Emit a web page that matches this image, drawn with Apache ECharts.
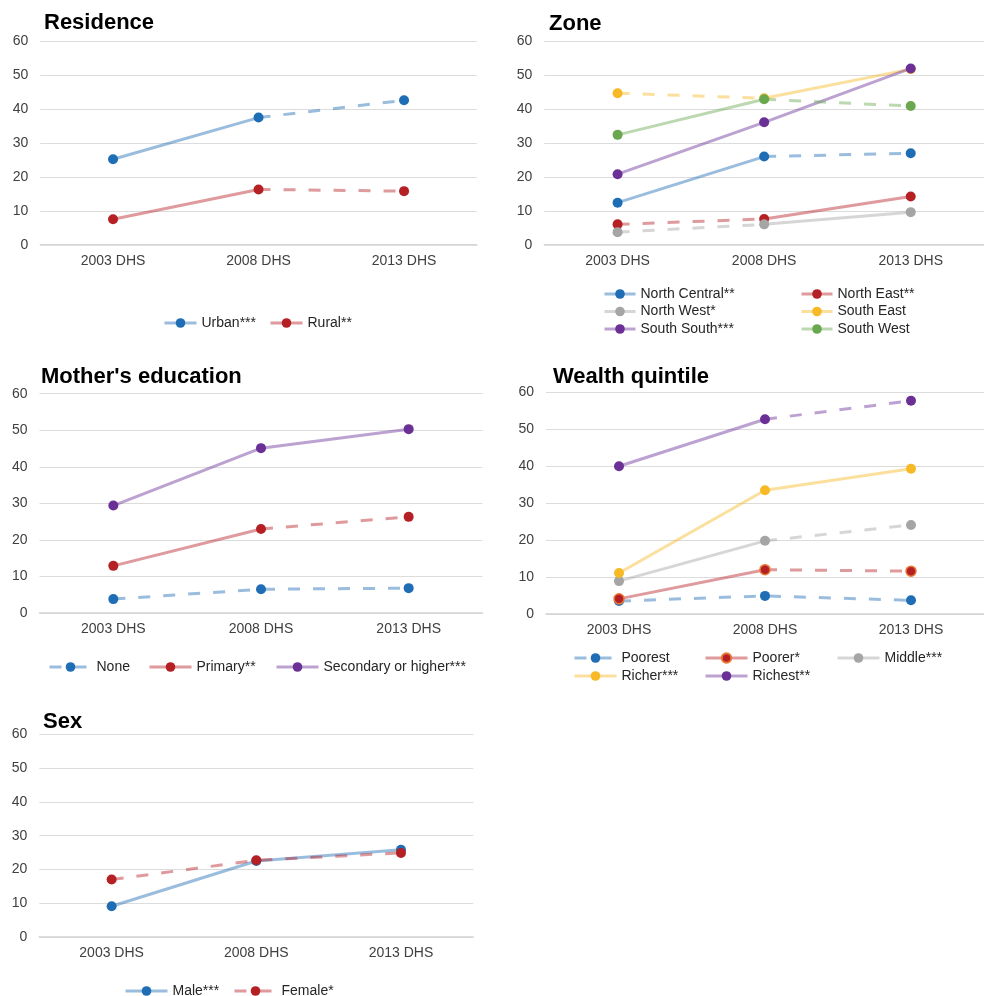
<!DOCTYPE html>
<html><head><meta charset="utf-8">
<script src="https://cdn.jsdelivr.net/npm/echarts@6/dist/echarts.min.js"></script>
<style>html,body{margin:0;padding:0;background:#fff}#chart{width:984px;height:996px}</style>
</head><body><div id="chart"></div>
<script>
// ---- data ----
const categories = ['2003 DHS', '2008 DHS', '2013 DHS'];
const yTicks = [0, 10, 20, 30, 40, 50, 60];
// Residence
const urban = [25.2, 37.5, 42.6];
const rural = [7.5, 16.3, 15.8];
// Zone
const northCentral = [12.4, 26.0, 27.0];
const northEast = [6.0, 7.6, 14.2];
const northWest = [3.7, 6.0, 9.6];
const southEast = [44.7, 43.2, 51.8];
const southSouth = [20.8, 36.1, 52.0];
const southWest = [32.4, 42.9, 40.9];
// Mother's education
const eduNone = [3.8, 6.5, 6.8];
const eduPrimary = [12.9, 23.0, 26.3];
const eduSecondary = [29.4, 45.1, 50.3];
// Wealth quintile
const poorest = [3.5, 4.9, 3.7];
const poorer = [4.1, 12.0, 11.6];
const middle = [8.9, 19.8, 24.1];
const richer = [11.1, 33.5, 39.3];
const richest = [40.0, 52.7, 57.7];
// Sex
const male = [9.1, 22.5, 25.8];
const female = [17.0, 22.7, 24.9];

// ---- styling / layout ----
const FONT = "'Liberation Sans', Arial, sans-serif";
const COLORS = {blue:'#1F6DB5', red:'#B52025', gray:'#A5A5A5', yellow:'#F7B925', green:'#6AA84F', purple:'#6A3096'};
const DASH = [12, 13];
function rgba(hex, a){const n=parseInt(hex.slice(1),16);return `rgba(${(n>>16)&255},${(n>>8)&255},${n&255},${a})`;}

const panels = [
  {title:'Residence', tl:44, tt:12, grid:{left:40.3, width:436.5, top:41.3, height:203.4}, iw:32},
  {title:'Zone', tl:549, tt:13, grid:{left:544.3, width:452, top:41.3, height:203.4}, iw:31},
  {title:"Mother's education", tl:41, tt:366, grid:{left:39.5, width:443, top:393.7, height:219.3}, iw:42},
  {title:'Wealth quintile', tl:553, tt:366, grid:{left:546, width:450.5, top:392.3, height:221.7}, iw:42},
  {title:'Sex', tl:43, tt:711, grid:{left:39.3, width:434, top:734.3, height:202.7}, iw:42}
];

const groups = [
  {p:0, name:'Urban***', data:urban, color:'blue', seg:['solid','dashed'], lg:[163,323]},
  {p:0, name:'Rural**', data:rural, color:'red', seg:['solid','dashed'], lg:[269,323]},
  {p:1, name:'North Central**', data:northCentral, color:'blue', seg:['solid','dashed'], lg:[603,294]},
  {p:1, name:'North East**', data:northEast, color:'red', seg:['dashed','solid'], lg:[800,294]},
  {p:1, name:'North West*', data:northWest, color:'gray', seg:['dashed','solid'], lg:[603,311.5]},
  {p:1, name:'South East', data:southEast, color:'yellow', seg:['dashed','solid'], lg:[800,311.5]},
  {p:1, name:'South South***', data:southSouth, color:'purple', seg:['solid','solid'], lg:[603,329]},
  {p:1, name:'South West', data:southWest, color:'green', seg:['solid','dashed'], lg:[800,329]},
  {p:2, name:'None', data:eduNone, color:'blue', seg:['dashed','dashed'], lg:[48,667]},
  {p:2, name:'Primary**', data:eduPrimary, color:'red', seg:['solid','dashed'], lg:[148,667]},
  {p:2, name:'Secondary or higher***', data:eduSecondary, color:'purple', seg:['solid','solid'], lg:[275,667]},
  {p:3, name:'Poorest', data:poorest, color:'blue', seg:['dashed','dashed'], lg:[573,658]},
  {p:3, name:'Poorer*', data:poorer, color:'red', seg:['solid','dashed'], lg:[704,658], border:'#E97A36'},
  {p:3, name:'Middle***', data:middle, color:'gray', seg:['solid','dashed'], lg:[836,658]},
  {p:3, name:'Richer***', data:richer, color:'yellow', seg:['solid','solid'], lg:[573,676]},
  {p:3, name:'Richest**', data:richest, color:'purple', seg:['solid','dashed'], lg:[704,676]},
  {p:4, name:'Male***', data:male, color:'blue', seg:['solid','solid'], lg:[124,991]},
  {p:4, name:'Female*', data:female, color:'red', seg:['dashed','dashed'], lg:[233,991]}
];

const lineSeries = [], markerSeries = [];
groups.forEach(g => {
  const c = COLORS[g.color];
  const itemStyle = {color:c, opacity:1, borderColor:g.border||c, borderWidth:g.border?1.5:0};
  const base = {type:'line', name:g.name, xAxisIndex:g.p, yAxisIndex:g.p, symbol:'circle', symbolSize:10,
    showSymbol:false, itemStyle, z:2, silent:true, animation:false};
  const ls = t => ({width:3, color:rgba(c,0.45), type: t==='dashed'?DASH:'solid', cap:'butt'});
  if (g.seg[0] === g.seg[1]) {
    lineSeries.push({...base, data:g.data.slice(), lineStyle:ls(g.seg[0])});
  } else {
    const s1 = {...base, data:[g.data[0], g.data[1], '-'], lineStyle:ls(g.seg[0])};
    const s2 = {...base, data:['-', g.data[1], g.data[2]], lineStyle:ls(g.seg[1])};
    if (g.seg[0] === 'solid') lineSeries.push(s1, s2); else lineSeries.push(s2, s1);
  }
  markerSeries.push({type:'scatter', name:g.name, xAxisIndex:g.p, yAxisIndex:g.p, data:g.data.slice(),
    symbol:'circle', symbolSize:10, itemStyle, z:4, silent:true, animation:false});
});

const option = {
  backgroundColor:'#fff',
  animation:false,
  title: panels.map(p => ({text:p.title, left:p.tl, top:p.tt, padding:0,
    textStyle:{fontFamily:FONT, fontSize:22, fontWeight:'bold', color:'#000'}})),
  grid: panels.map(p => ({...p.grid, containLabel:false})),
  xAxis: panels.map((p,i) => ({type:'category', gridIndex:i, data:categories, boundaryGap:true,
    axisTick:{show:false}, axisLine:{show:true, lineStyle:{color:'#D4D4D4', width:1.5}},
    axisLabel:{fontFamily:FONT, fontSize:14, color:'#404040', margin:9}})),
  yAxis: panels.map((p,i) => ({type:'value', gridIndex:i, min:yTicks[0], max:yTicks[yTicks.length-1], interval:10,
    axisLine:{show:false}, axisTick:{show:false},
    splitLine:{lineStyle:{color:'#DCDCDC', width:1}},
    axisLabel:{fontFamily:FONT, fontSize:14, color:'#404040', margin:12}})),
  legend: groups.map(g => ({data:[g.name], left:g.lg[0], top:g.lg[1]-7, padding:0, itemGap:0,
    itemWidth:panels[g.p].iw, itemHeight:12, selectedMode:false,
    lineStyle:{width:3},
    textStyle:{fontFamily:FONT, fontSize:14, color:'#262626', lineHeight:14}})),
  series: lineSeries.concat(markerSeries)
};
const chart = echarts.init(document.getElementById('chart'), null, {renderer:'canvas'});
chart.setOption(option);
</script></body></html>
